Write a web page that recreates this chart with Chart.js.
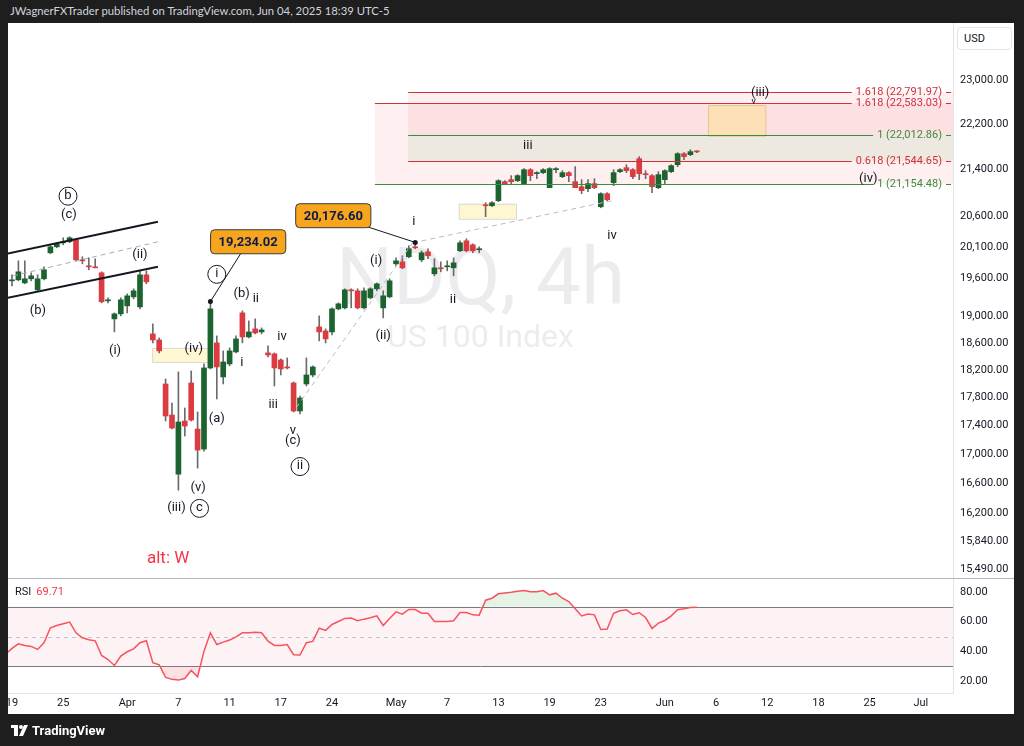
<!DOCTYPE html>
<html>
<head>
<meta charset="utf-8">
<title>NDQ 4h</title>
<script src="https://cdn.jsdelivr.net/npm/chart.js@4.4.1/dist/chart.umd.min.js"></script>
<style>
  html, body { margin: 0; padding: 0; }
  body { width: 1024px; height: 746px; background: #1e1e1e; position: relative; overflow: hidden; font-family: Roboto, "Liberation Sans", sans-serif; }
  #header { position: absolute; left: 10px; top: 4px; font-size: 11.3px; color: #d1d4dc; font-family: Lato, sans-serif; }
  #panel { position: absolute; left: 8px; top: 23px; width: 1006px; height: 691px; background: #fff; }
  #priceCanvas { position: absolute; left: 0; top: 0; }
  #rsiCanvas { position: absolute; left: 0; top: 555px; }
  #usd { position: absolute; left: 949px; top: 4px; width: 55px; height: 23px; border: 1px solid #e0e3eb; border-radius: 4px; font-size: 11px; line-height: 22px; padding-left: 6px; box-sizing: border-box; color: #131722; background: #fff; }
  #rsiLabel { position: absolute; left: 7px; top: 562px; font-size: 11px; color: #131722; }
  #rsiLabel span { color: #f23645; margin-left: 5px; }
  #footer { position: absolute; left: 11px; top: 723px; color: #fff; font-size: 13px; font-weight: bold; display: flex; align-items: center; gap: 4px; }
</style>
</head>
<body>
<div id="header">JWagnerFXTrader published on TradingView.com, Jun 04, 2025 18:39 UTC-5</div>
<div id="panel">
  <canvas id="priceCanvas" width="1006" height="555"></canvas>
  <canvas id="rsiCanvas" width="1006" height="136"></canvas>
  <div id="usd">USD</div>
  <div id="rsiLabel">RSI<span>69.71</span></div>
</div>
<div id="footer">
  <svg width="17" height="11" viewBox="0 0 17 11"><rect x="0" y="0" width="7" height="3" fill="#fff"/><rect x="3" y="0" width="4" height="11" fill="#fff"/><circle cx="10" cy="2" r="2" fill="#fff"/><polygon points="13,0 17,0 12,11 8,11" fill="#fff"/></svg>
  <span>TradingView</span>
</div>
<script>
// 4h bars, Mar 19 -> Jun 4 2025 (two bars per session)
var opens = [19559,19575,19527,19591,19417,19591,20008,20105,20170,20187,
  20219,19894,19798,19782,19686,19245,18966,19043,19167,19307,
  19151,19654,18737,18646,17993,17547,16727,17462,18008,17349,
  17070,18228,18601,18096,18287,18466,19058,18691,18813,18767,
  18451,18436,18346,18243,18008,17604,17993,18125,18843,18782,
  18767,19120,19136,19417,19401,19136,19292,19433,19136,19307,
  19830,19862,19943,20105,19894,20024,19670,19766,19782,19766,
  20040,20203,20138,20057,20801,20784,20869,21193,21227,21210,
  21159,21399,21330,21348,21090,21399,21279,21348,21193,21107,
  21073,21159,20767,20988,21176,21365,21434,21399,21591,21330,
  21296,21090,21227,21365,21486,21678,21661,21714];
var highs = [19654,19878,19878,19686,19654,19782,20122,20170,20252,20269,
  20236,19943,19927,19911,19702,19292,19058,19292,19354,19433,
  19718,19718,18889,18676,18066,17718,18169,17647,18184,17590,
  18287,19234,18706,18481,18526,18706,19089,18935,18966,18828,
  18556,18451,18361,18376,18022,17819,18376,18258,19012,18813,
  19136,19214,19433,19433,19433,19449,19449,19527,19401,19591,
  19927,19959,20122,20177,20040,20073,19911,19862,19878,19927,
  20203,20236,20154,20105,20835,20852,21227,21210,21296,21313,
  21417,21417,21365,21417,21434,21434,21382,21365,21452,21227,
  21227,21244,21005,21005,21399,21417,21486,21417,21626,21382,
  21313,21365,21399,21486,21696,21696,21749,21731];
var lows = [19480,19559,19512,19559,19385,19575,19991,20089,20138,20170,
  19878,19830,19734,19766,19214,19214,18767,19012,19058,19276,
  19120,19512,18601,18451,17462,17349,16512,17251,17462,16809,
  17042,18213,17776,17993,18258,18451,18601,18676,18737,18737,
  18391,17964,18125,18213,17590,17561,17964,18096,18631,18601,
  18722,19105,19120,19136,19120,19120,19276,19401,18981,19292,
  19798,19750,19927,20073,19862,19911,19638,19702,19718,19638,
  20024,20024,20008,20008,20600,20767,20852,21141,21159,21193,
  21141,21210,21244,21330,21090,21348,21261,21193,21090,20988,
  21022,21073,20750,20869,21124,21348,21348,21244,21227,21244,
  21005,21073,21159,21348,21452,21573,21643,21696];
var closes = [19575,19702,19591,19638,19591,19734,20105,20154,20187,20252,
  19894,19878,19782,19766,19230,19261,19043,19261,19323,19401,
  19654,19543,18646,18481,17533,17363,17448,17391,17476,17056,
  18228,19120,18243,18316,18481,18661,18691,18767,18752,18797,
  18421,18228,18213,18228,17604,17790,18125,18243,18767,18661,
  19120,19198,19417,19401,19136,19401,19433,19512,19323,19559,
  19878,19766,20073,20089,20008,19959,19766,19750,19798,19846,
  20170,20040,20040,20073,20784,20835,21210,21159,21193,21296,
  21399,21296,21348,21399,21417,21417,21348,21296,21090,21039,
  21159,21090,20988,20886,21348,21399,21382,21279,21330,21313,
  21107,21313,21382,21469,21678,21626,21714,21710];
// RSI(14), first value belongs to the bar before Mar 19
var rsiValues = [38,
  42,45.1,44,43.3,41.3,45.8,55.9,57.4,58.6,59.7,
  52.5,49.1,47.8,47.1,37.2,34.5,30.5,36.8,39.7,41.7,
  45.8,47.1,32.3,30.9,22.4,21.1,20.6,21.7,27.1,22.9,
  40.1,52.5,44.6,46.2,47.6,49.8,52.5,52.5,52.9,52.5,
  46.9,44,44,44.6,37.7,37.5,45.8,46.7,55.6,54.1,
  58.1,60.1,62.2,62.4,60.6,61.7,62.6,63.9,57.4,62.1,
  66.6,65.1,68.2,68.2,65.7,65.7,60.1,60.1,60.1,60.6,
  66.2,66.2,64.6,64.4,74.5,75.8,78.8,79.4,79.9,80.5,
  81,80.1,80.1,81,78.1,79.2,75.8,73.6,68.7,63.9,
  65.1,64.6,54.7,55,65.7,67.3,68,64.8,66,62.8,
  55.4,59,60.8,63.9,68,68.7,69.6,69.71];

var timeTickIdx = [0,8,18,26,34,42,50,60,68,76,84,92,102,110,118,126,134,142];
var timeTickText = ['19','25','Apr','7','11','17','24','May','7','13','19','23','Jun','6','12','18','25','Jul'];
var priceTicks = [15490,15840,16200,16600,17000,17400,17800,18200,18600,19000,19600,20100,20600,21400,22200,23000];
var rsiTicks = [20,40,60,80];

// fib tools (level prices as printed)
var fibLowTool = { start: 56.7, levels: [[1, 21154.48], [1.618, 22583.03]] };
var fibHighTool = { start: 61.9, levels: [[0.618, 21544.65], [1, 22012.86], [1.618, 22791.97]] };

// wave labels: [text, bar index, price, circled]
var waveLabels = [
  ['b', 8.75, 20954, true], ['(c)', 8.9, 20633], ['(ii)', 20, 19975], ['(b)', 4.06, 19089],
  ['(i)', 16.1, 18481], ['i', 32, 19670, true], ['(b)', 35.9, 19354], ['ii', 38.1, 19276],
  ['(iv)', 28.4, 18511], ['i', 35.9, 18302], ['iv', 42.2, 18691], ['(a)', 32, 17490],
  ['iii', 40.8, 17690], ['v', 43.9, 17321], ['(c)', 43.9, 17181], ['ii', 45, 16837, true],
  ['(v)', 29.1, 16540], ['(iii)', 25.7, 16277], ['c', 29.3, 16277, true],
  ['(i)', 56.9, 19878], ['(ii)', 58, 18706], ['ii', 68.9, 19261], ['i', 62.8, 20516],
  ['iii', 80.6, 21822], ['iv', 93.75, 20285], ['(iv)', 133.8, 21244], ['(iii)', 116.9, 22780]
];

var bullColor = '#1b6430', bearColor = '#dc3b41', wickColor = '#6b6b6b';
var bars = opens.map(function (o, i) { return i; });

var xMin = -0.625, xMax = 147.03;

function fmtPrice(v) { return v.toLocaleString('en-US', { minimumFractionDigits: 2, maximumFractionDigits: 2 }); }

function fixAxis(w) {
  return function (s) { s.width = w; s.paddingTop = 0; s.paddingBottom = 0; };
}

Chart.defaults.font.family = 'Roboto, "Liberation Sans", sans-serif';
Chart.defaults.font.size = 11;
Chart.defaults.color = '#131722';

function line(ctx, a, b, color, width, dash) {
  ctx.save();
  ctx.strokeStyle = color; ctx.lineWidth = width; ctx.setLineDash(dash || []);
  ctx.beginPath(); ctx.moveTo(a[0], a[1]); ctx.lineTo(b[0], b[1]); ctx.stroke();
  ctx.restore();
}

var overlay = {
  id: 'overlay',
  beforeDatasetsDraw: function (chart) {
    var ctx = chart.ctx, a = chart.chartArea, x = chart.scales.x, y = chart.scales.y;
    ctx.save();
    ctx.beginPath(); ctx.rect(a.left, a.top, a.width, a.height); ctx.clip();

    // watermark
    var cx = (a.left + a.right) / 2, cy = (a.top + a.bottom) / 2;
    ctx.fillStyle = 'rgba(149,152,161,0.18)';
    ctx.textAlign = 'center'; ctx.textBaseline = 'middle';
    ctx.font = '80px Roboto, sans-serif';
    ctx.fillText('NDQ, 4h', cx, cy - 17);
    ctx.font = '32px Roboto, sans-serif';
    ctx.fillText('US 100 Index', cx, cy + 38);

    // fib zones
    var pink = 'rgba(242,54,69,0.08)', green = 'rgba(76,175,80,0.1)';
    function zone(start, p1, p2, col) {
      var x1 = x.getPixelForValue(start), y1 = y.getPixelForValue(p1), y2 = y.getPixelForValue(p2);
      ctx.fillStyle = col;
      ctx.fillRect(x1, Math.min(y1, y2), a.right - x1, Math.abs(y2 - y1));
    }
    zone(fibLowTool.start, fibLowTool.levels[0][1], fibLowTool.levels[1][1], pink);
    zone(fibHighTool.start, fibHighTool.levels[0][1], fibHighTool.levels[1][1], green);
    zone(fibHighTool.start, fibHighTool.levels[1][1], fibHighTool.levels[2][1], pink);

    // highlight boxes
    function box(i1, i2, p1, p2, fill, stroke) {
      var x1 = x.getPixelForValue(i1), x2 = x.getPixelForValue(i2);
      var y1 = y.getPixelForValue(p1), y2 = y.getPixelForValue(p2);
      ctx.fillStyle = fill; ctx.fillRect(x1, y1, x2 - x1, y2 - y1);
      ctx.strokeStyle = stroke; ctx.lineWidth = 1; ctx.strokeRect(x1 + 0.5, y1 + 0.5, x2 - x1, y2 - y1);
    }
    box(21.9, 30.9, 18526, 18316, 'rgba(255,241,179,0.6)', '#d9d9d9');
    box(69.8, 78.75, 20818, 20566, 'rgba(255,241,179,0.6)', '#d9d9d9');
    box(108.75, 117.7, 22547, 21997, 'rgba(255,224,150,0.55)', '#e3c88c');
    ctx.restore();
  },
  afterDatasetsDraw: function (chart) {
    var ctx = chart.ctx, a = chart.chartArea, x = chart.scales.x, y = chart.scales.y;
    function P(i, p) { return [x.getPixelForValue(i), y.getPixelForValue(p)]; }
    ctx.save();
    ctx.beginPath(); ctx.rect(a.left, a.top, a.width, a.height); ctx.clip();

    // channel
    line(ctx, P(-0.7, 19996), P(22.8, 20516), '#131722', 2);
    line(ctx, P(-0.7, 19292), P(22.8, 19782), '#131722', 2);
    line(ctx, P(0.16, 19638), P(22.8, 20187), '#a9acb5', 1, [5, 4]);
    // trend helpers
    line(ctx, P(44.4, 17650), P(62.6, 20170), '#b8bbc3', 1, [5, 4]);
    line(ctx, P(62.6, 20170), P(93.75, 20869), '#b8bbc3', 1, [5, 4]);

    // fib levels + labels
    ctx.font = '11px Roboto, sans-serif';
    ctx.textBaseline = 'middle'; ctx.textAlign = 'right';
    var red = '#d0303a', grn = '#3c8c3f';
    function fibLevels(tool) {
      tool.levels.forEach(function (l) {
        var col = l[0] === 1 ? grn : red;
        var yy = Math.round(y.getPixelForValue(l[1])) + 0.5;
        var txt = l[0] + ' (' + fmtPrice(l[1]) + ')';
        var tr = a.right - 11, tw = ctx.measureText(txt).width;
        line(ctx, [x.getPixelForValue(tool.start), yy], [tr - tw - 4, yy], col, 1);
        line(ctx, [a.right - 7, yy], [a.right - 2, yy], col, 1);
        ctx.fillStyle = col;
        ctx.fillText(txt, tr, yy);
      });
    }
    fibLevels(fibLowTool);
    fibLevels(fibHighTool);

    // wave labels
    ctx.textAlign = 'center';
    waveLabels.forEach(function (w) {
      var p = P(w[1], w[2]);
      ctx.fillStyle = '#131722';
      ctx.font = '13px Roboto, sans-serif';
      ctx.fillText(w[0], p[0], p[1]);
      if (w[3]) {
        ctx.strokeStyle = '#131722'; ctx.lineWidth = 1;
        ctx.beginPath(); ctx.arc(p[0], p[1] + 0.5, 9, 0, Math.PI * 2); ctx.stroke();
      }
    });
    // small caret under (iii)
    var c = P(115.9, 22600);
    ctx.font = '9px Roboto, sans-serif'; ctx.fillText('v', c[0], c[1]);

    // alt label
    var alt = P(24.4, 15620);
    ctx.fillStyle = '#f23645'; ctx.font = '17px Roboto, sans-serif';
    ctx.fillText('alt: W', alt[0], alt[1]);

    // price callouts
    function callout(txt, bi, bp, ti, tp) {
      var b = P(bi, bp), t = P(ti, tp);
      line(ctx, b, t, '#131722', 1);
      ctx.fillStyle = '#131722';
      ctx.beginPath(); ctx.arc(t[0], t[1], 2.5, 0, Math.PI * 2); ctx.fill();
      ctx.font = 'bold 13px Roboto, sans-serif';
      var w = ctx.measureText(txt).width + 16, h = 24;
      ctx.fillStyle = '#f6a51d'; ctx.strokeStyle = '#3a3a3a'; ctx.lineWidth = 1;
      ctx.beginPath(); ctx.roundRect(b[0] - w / 2, b[1] - h / 2, w, h, 4); ctx.fill(); ctx.stroke();
      ctx.fillStyle = '#0d1a4f'; ctx.fillText(txt, b[0], b[1] + 1);
    }
    callout('19,234.02', 36.9, 20187, 31, 19234.02);
    callout('20,176.60', 50.2, 20617, 63, 20176.6);
    ctx.restore();
  }
};

new Chart(document.getElementById('priceCanvas'), {
  type: 'bar',
  data: {
    datasets: [{
      data: bars.map(function (i) { return { x: i, y: [lows[i], highs[i]] }; }),
      backgroundColor: wickColor,
      barThickness: 1, minBarLength: 1, grouped: false, order: 2
    }, {
      data: bars.map(function (i) { return { x: i, y: [opens[i], closes[i]] }; }),
      backgroundColor: bars.map(function (i) { return closes[i] >= opens[i] ? bullColor : bearColor; }),
      barThickness: 5, minBarLength: 1, grouped: false, order: 1, borderWidth: 0
    }]
  },
  options: {
    responsive: false, animation: false, events: [],
    layout: { padding: 0 },
    plugins: { legend: { display: false }, tooltip: { enabled: false } },
    scales: {
      x: { type: 'linear', min: xMin, max: xMax, display: false, offset: false },
      y: {
        type: 'logarithmic', position: 'right', min: 15379.2, max: 24095.3, bounds: 'data',
        grid: { display: false, drawTicks: false },
        border: { color: '#e0e3eb' },
        ticks: { padding: 7, callback: function (v) { return fmtPrice(v); } },
        afterBuildTicks: function (s) { s.ticks = priceTicks.map(function (v) { return { value: v }; }); },
        afterFit: fixAxis(61)
      }
    }
  },
  plugins: [overlay]
});

var rsiBands = {
  id: 'rsiBands',
  beforeDatasetsDraw: function (chart) {
    var ctx = chart.ctx, a = chart.chartArea, y = chart.scales.y;
    var y70 = y.getPixelForValue(70), y30 = y.getPixelForValue(30), y50 = y.getPixelForValue(50);
    ctx.save();
    ctx.fillStyle = 'rgba(242,54,69,0.06)';
    ctx.fillRect(a.left, y70, a.width, y30 - y70);
    line(ctx, [a.left, Math.round(y70) + 0.5], [a.right, Math.round(y70) + 0.5], '#787b86', 1);
    line(ctx, [a.left, Math.round(y30) + 0.5], [a.right, Math.round(y30) + 0.5], '#787b86', 1);
    line(ctx, [a.left, Math.round(y50) + 0.5], [a.right, Math.round(y50) + 0.5], '#c3c5cb', 1, [4, 4]);
    line(ctx, [0, 0.5], [chart.width, 0.5], '#b2b5be', 1);
    ctx.restore();
  }
};

var rsiPoints = rsiValues.map(function (v, k) { return { x: k - 1, y: v }; });

new Chart(document.getElementById('rsiCanvas'), {
  type: 'line',
  data: {
    datasets: [{
      data: rsiPoints, borderColor: '#f7525f', borderWidth: 1.5, pointRadius: 0, tension: 0,
      fill: { target: { value: 70 }, above: 'rgba(76,175,80,0.15)', below: 'rgba(0,0,0,0)' }
    }, {
      data: rsiPoints, borderWidth: 0, pointRadius: 0, tension: 0,
      fill: { target: { value: 30 }, above: 'rgba(0,0,0,0)', below: 'rgba(242,54,69,0.15)' }
    }]
  },
  options: {
    responsive: false, animation: false, events: [],
    layout: { padding: 0 },
    plugins: { legend: { display: false }, tooltip: { enabled: false } },
    scales: {
      x: {
        type: 'linear', min: xMin, max: xMax, offset: false,
        grid: { display: false, drawTicks: false },
        border: { color: '#e0e3eb' },
        ticks: {
          autoSkip: false, maxRotation: 0, padding: 4,
          callback: function (v) { var k = timeTickIdx.indexOf(v); return k >= 0 ? timeTickText[k] : ''; }
        },
        afterBuildTicks: function (s) { s.ticks = timeTickIdx.map(function (v) { return { value: v }; }); },
        afterFit: function (s) { s.height = 21; s.paddingLeft = 0; s.paddingRight = 0; }
      },
      y: {
        position: 'right', min: 11.91, max: 89.44,
        grid: { display: false, drawTicks: false },
        border: { color: '#e0e3eb' },
        ticks: { padding: 7, callback: function (v) { return v.toFixed(2); } },
        afterBuildTicks: function (s) { s.ticks = rsiTicks.map(function (v) { return { value: v }; }); },
        afterFit: fixAxis(61)
      }
    }
  },
  plugins: [rsiBands]
});
</script>
</body>
</html>
